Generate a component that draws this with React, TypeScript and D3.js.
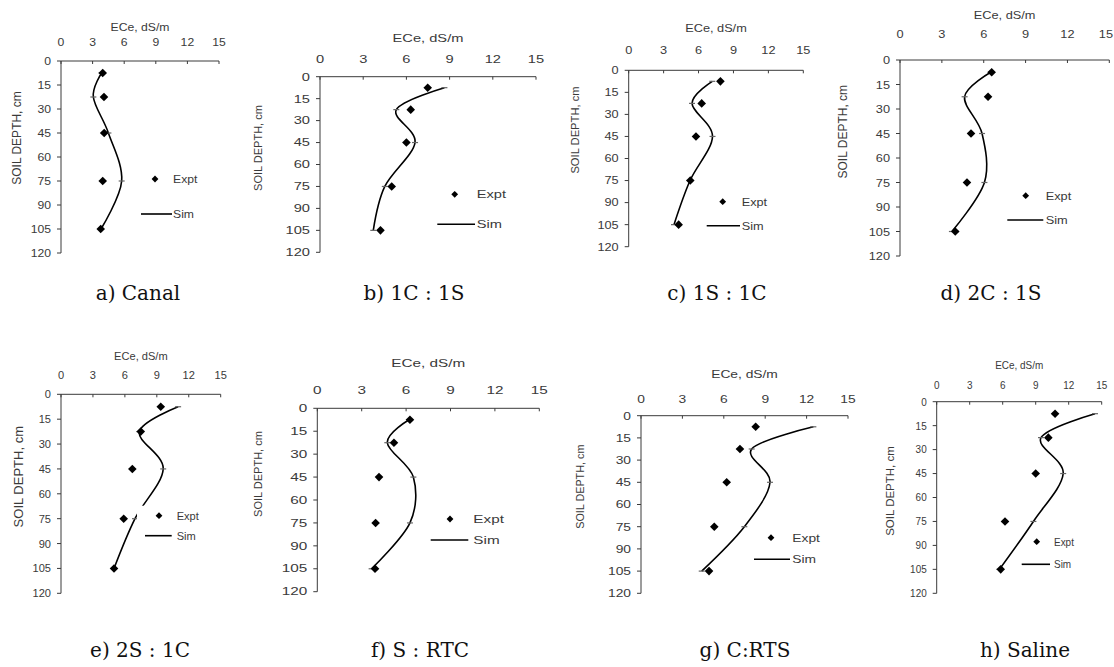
import React from "react";
import * as d3 from "d3";

// Sampling depths (cm) shared by every profile
const DEPTHS = [7.5, 22.5, 45, 75, 105];
const X_TICKS = [0, 3, 6, 9, 12, 15];
const Y_TICKS = [0, 15, 30, 45, 60, 75, 90, 105, 120];
const X_TITLE = "ECe, dS/m";
const Y_TITLE = "SOIL DEPTH, cm";

// Measured (Expt) and simulated (Sim) ECe profiles, dS/m, one per treatment
const EXPT_CANAL = [3.96, 4.08, 4.1, 3.96, 3.77];
const SIM_CANAL = [3.86, 3.07, 4.5, 5.76, 3.8];
const EXPT_1C1S = [7.48, 6.3, 6.0, 4.98, 4.2];
const SIM_1C1S = [8.64, 5.3, 6.6, 4.5, 3.7];
const EXPT_1S1C = [7.88, 6.27, 5.78, 5.29, 4.29];
const SIM_1S1C = [7.18, 5.44, 7.2, 5.27, 3.89];
const EXPT_2C1S = [6.57, 6.31, 5.09, 4.8, 3.96];
const SIM_2C1S = [6.5, 4.63, 5.88, 6.05, 3.72];
const EXPT_2S1C = [9.37, 7.49, 6.7, 5.89, 4.98];
const SIM_2S1C = [11.0, 7.36, 9.6, 6.95, 4.98];
const EXPT_SRTC = [6.26, 5.18, 4.17, 3.94, 3.9];
const SIM_SRTC = [6.2, 4.73, 6.49, 6.26, 3.67];
const EXPT_CRTS = [8.31, 7.17, 6.21, 5.31, 4.93];
const SIM_CRTS = [12.49, 8.02, 9.35, 7.49, 4.4];
const EXPT_SALINE = [10.76, 10.15, 9.0, 6.21, 5.82];
const SIM_SALINE = [14.39, 9.48, 11.5, 8.79, 5.7];

const CAPTIONS = [
  "a) Canal",
  "b) 1C : 1S",
  "c) 1S : 1C",
  "d) 2C : 1S",
  "e) 2S : 1C",
  "f) S : RTC",
  "g) C:RTS",
  "h) Saline",
];
const EXPT_SERIES = [EXPT_CANAL, EXPT_1C1S, EXPT_1S1C, EXPT_2C1S, EXPT_2S1C, EXPT_SRTC, EXPT_CRTS, EXPT_SALINE];
const SIM_SERIES = [SIM_CANAL, SIM_1C1S, SIM_1S1C, SIM_2C1S, SIM_2S1C, SIM_SRTC, SIM_CRTS, SIM_SALINE];

const SVG_W = 1114;
const SVG_H = 667;

// Per-panel placement: plot box, text sizes/stretch, label and legend anchors
type Layout = {
  x0: number; x1: number; y0: number; y1: number;
  fs: number; sx: number; tickBase: number; titleBase: number;
  ylX: number; ylY: number; ylFs: number;
  legX: number; legY: number; legText: number; simX0: number; simX1: number; simY: number;
  boxL?: number;
  capX: number; capY: number;
};

const LAYOUTS: Layout[] = [
  { x0: 61, x1: 219, y0: 61, y1: 253, fs: 11.5, sx: 1.06, tickBase: 46, titleBase: 31, ylX: 17, ylY: 138, ylFs: 12, legX: 155, legY: 179, legText: 173, simX0: 141, simX1: 172, simY: 214, capX: 138, capY: 300 },
  { x0: 320, x1: 536, y0: 76.7, y1: 252.3, fs: 10.7, sx: 1.37, tickBase: 62.5, titleBase: 42, ylX: 258, ylY: 148, ylFs: 11, legX: 454.7, legY: 194.3, legText: 476.7, simX0: 437.3, simX1: 475, simY: 224.3, capX: 414, capY: 300 },
  { x0: 628.7, x1: 803.3, y0: 70.3, y1: 246.7, fs: 10.7, sx: 1.19, tickBase: 54.3, titleBase: 31.5, ylX: 575, ylY: 130, ylFs: 11.2, legX: 722.7, legY: 201.7, legText: 741.7, simX0: 706.7, simX1: 740, simY: 225.7, capX: 717, capY: 300 },
  { x0: 900, x1: 1109.3, y0: 60, y1: 256, fs: 11.6, sx: 1.1, tickBase: 37.7, titleBase: 18.5, ylX: 843, ylY: 131.7, ylFs: 12, legX: 1025.7, legY: 195.7, legText: 1045.7, simX0: 1007.3, simX1: 1043.3, simY: 220, capX: 991, capY: 300 },
  // legend box here sits on top of the simulated curve and hides a short piece of it
  { x0: 61, x1: 220.7, y0: 394.3, y1: 593.3, fs: 11.2, sx: 0.99, tickBase: 378.7, titleBase: 360, ylX: 18, ylY: 476.7, ylFs: 13, legX: 159, legY: 515.7, legText: 176.7, simX0: 145, simX1: 171.7, simY: 535.7, boxL: 137, capX: 140, capY: 657 },
  { x0: 317.3, x1: 539.3, y0: 408.3, y1: 591.7, fs: 10.2, sx: 1.5, tickBase: 394, titleBase: 366.5, ylX: 258, ylY: 474, ylFs: 11, legX: 450, legY: 519, legText: 473.3, simX0: 430.7, simX1: 468.3, simY: 540, capX: 420, capY: 657 },
  { x0: 641, x1: 848, y0: 415.7, y1: 593.3, fs: 10.7, sx: 1.29, tickBase: 402.7, titleBase: 378, ylX: 580, ylY: 486.7, ylFs: 10.8, legX: 771, legY: 537.7, legText: 792.3, simX0: 754, simX1: 790, simY: 559.3, capX: 745, capY: 657 },
  { x0: 936.7, x1: 1101.7, y0: 401.7, y1: 593.3, fs: 10.7, sx: 0.93, tickBase: 388.7, titleBase: 369, ylX: 890, ylY: 491, ylFs: 11.5, legX: 1036.7, legY: 541.7, legText: 1054, simX0: 1021.7, simX1: 1050, simY: 564.3, capX: 1025, capY: 657 },
];

const INK = "#3a3a3a";
const FONT = "'Liberation Sans', Arial, sans-serif";

const diamond = (cx: number, cy: number, r: number) =>
  `M${cx},${cy - r}L${cx + r},${cy}L${cx},${cy + r}L${cx - r},${cy}Z`;

function Stretched({ x, y, sx, fs, anchor, children }: { x: number; y: number; sx: number; fs: number; anchor: string; children: React.ReactNode }) {
  return (
    <g transform={`translate(${x},${y}) scale(${sx},1)`}>
      <text x={0} y={0} fontSize={fs} textAnchor={anchor} fill={INK} fontFamily={FONT}>
        {children}
      </text>
    </g>
  );
}

function Panel({ L, expt, sim, caption }: { L: Layout; expt: number[]; sim: number[]; caption: string }) {
  const xs = d3.scaleLinear().domain([0, 15]).range([L.x0, L.x1]);
  const ys = d3.scaleLinear().domain([0, 120]).range([L.y0, L.y1]);
  const pts: [number, number][] = sim.map((v, i) => [v, DEPTHS[i]]);
  const line = d3
    .line<[number, number]>()
    .x((d) => xs(d[0]))
    .y((d) => ys(d[1]))
    .curve(d3.curveCatmullRom.alpha(0));
  const cx = (L.x0 + L.x1) / 2;
  const legTop = L.legY - 10;
  // keep tick labels inside the drawing width
  const tickX = (t: number) => {
    const half = (String(t).length * 0.556 * L.fs * L.sx) / 2;
    return Math.min(xs(t), SVG_W - half - 1);
  };
  return (
    <g>
      {/* top x axis */}
      <line x1={L.x0} x2={L.x1} y1={L.y0} y2={L.y0} stroke={INK} strokeWidth={1} />
      {X_TICKS.map((t) => (
        <g key={"xt" + t}>
          <line x1={xs(t)} x2={xs(t)} y1={L.y0} y2={L.y0 + 3} stroke={INK} strokeWidth={1} />
          <Stretched x={tickX(t)} y={L.tickBase} sx={L.sx} fs={L.fs} anchor="middle">{t}</Stretched>
        </g>
      ))}
      <Stretched x={cx} y={L.titleBase} sx={L.sx} fs={L.fs} anchor="middle">{X_TITLE}</Stretched>
      {/* depth axis */}
      <line x1={L.x0} x2={L.x0} y1={L.y0} y2={L.y1} stroke={INK} strokeWidth={1} />
      {Y_TICKS.map((t) => (
        <g key={"yt" + t}>
          <line x1={L.x0 - 4} x2={L.x0} y1={ys(t)} y2={ys(t)} stroke={INK} strokeWidth={1} />
          <Stretched x={L.x0 - 10} y={ys(t) + L.fs * 0.36} sx={L.sx} fs={L.fs} anchor="end">{t}</Stretched>
        </g>
      ))}
      <text
        transform={`translate(${L.ylX},${L.ylY}) rotate(-90)`}
        fontSize={L.ylFs}
        textAnchor="middle"
        dominantBaseline="central"
        fill={INK}
        fontFamily={FONT}
      >
        {Y_TITLE}
      </text>
      {/* simulated profile */}
      <path d={line(pts) ?? ""} fill="none" stroke="#000" strokeWidth={1.6} />
      {pts.map((p, i) => (
        <line key={"sm" + i} x1={xs(p[0]) - 3} x2={xs(p[0]) + 3} y1={ys(p[1])} y2={ys(p[1])} stroke="#666" strokeWidth={1.2} />
      ))}
      {/* measured points */}
      {expt.map((v, i) => (
        <path key={"ex" + i} d={diamond(xs(v), ys(DEPTHS[i]), 4.3)} fill="#000" />
      ))}
      {/* legend */}
      {L.boxL !== undefined && (
        <rect x={L.boxL} y={legTop} width={L.legText + 32 - L.boxL} height={L.simY + 10 - legTop} fill="#fff" />
      )}
      <path d={diamond(L.legX, L.legY, 3.4)} fill="#000" />
      <Stretched x={L.legText} y={L.legY + L.fs * 0.36} sx={L.sx} fs={L.fs} anchor="start">Expt</Stretched>
      <line x1={L.simX0} x2={L.simX1} y1={L.simY} y2={L.simY} stroke="#000" strokeWidth={1.6} />
      <Stretched x={L.legText} y={L.simY + L.fs * 0.36} sx={L.sx} fs={L.fs} anchor="start">Sim</Stretched>
      {/* caption */}
      <text x={L.capX} y={L.capY} fontSize={20} textAnchor="middle" fill="#111" fontFamily="'DejaVu Serif', serif">
        {caption}
      </text>
    </g>
  );
}

export default function App() {
  return (
    <svg
      width={SVG_W}
      height={SVG_H}
      viewBox={`0 0 ${SVG_W} ${SVG_H}`}
      style={{ position: "absolute", left: 0, top: 0, background: "#fff" }}
    >
      <rect x={0} y={0} width={SVG_W} height={SVG_H} fill="#fff" />
      {LAYOUTS.map((L, i) => (
        <Panel key={i} L={L} expt={EXPT_SERIES[i]} sim={SIM_SERIES[i]} caption={CAPTIONS[i]} />
      ))}
    </svg>
  );
}
